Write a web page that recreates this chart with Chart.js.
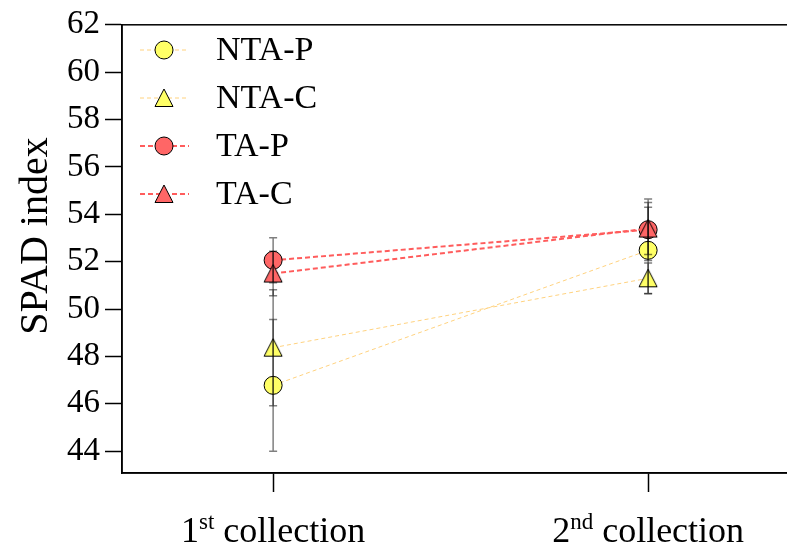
<!DOCTYPE html>
<html>
<head>
<meta charset="utf-8">
<script src="https://cdn.jsdelivr.net/npm/chart.js@4/dist/chart.umd.min.js"></script>
<style>
  html, body { margin: 0; padding: 0; background: #fff; overflow: hidden; }
  #wrap { width: 787px; height: 548px; overflow: hidden; }
</style>
</head>
<body>
<div id="wrap"><canvas id="chart" width="840" height="548"></canvas></div>
<script>
const categories = ["1st collection", "2nd collection"];
const xPositions = [1, 2];
const seriesNames = ["NTA-P", "NTA-C", "TA-P", "TA-C"];
const ntaP = [46.78, 52.48];
const ntaPErr = [2.78, 1.82];
const ntaC = [48.37, 51.3];
const ntaCErr = [2.45, 0.65];
const taP = [52.06, 53.35];
const taPErr = [0.95, 1.3];
const taC = [51.5, 53.4];
const taCErr = [0.94, 1.1];
const yTicks = [44, 46, 48, 50, 52, 54, 56, 58, 60, 62];

const FONT = "'Liberation Serif', 'Times New Roman', serif";
const yellow = "#FFFF66";
const red = "#FF6666";
const ntaLine = "#FFD27F";
const taLine = "#FF5C5C";

// triangle marker centred on its bounding box (like matplotlib '^')
function makeTriangle(fill) {
    const c = document.createElement("canvas");
    c.width = 24; c.height = 24;
    const g = c.getContext("2d");
    g.beginPath();
    g.moveTo(12, 3);
    g.lineTo(21, 20.5);
    g.lineTo(3, 20.5);
    g.closePath();
    g.fillStyle = fill;
    g.fill();
    g.lineWidth = 1;
    g.strokeStyle = "#000";
    g.stroke();
    return c;
}

const triYellow = makeTriangle(yellow);
const triRed = makeTriangle(red);

function makeDataset(label, values, errs, marker, fill, line, width, dash, order) {
    return {
        label: label,
        data: values.map((v, i) => ({ x: xPositions[i], y: v })),
        errs: errs,
        borderColor: line,
        borderWidth: width,
        borderDash: dash,
        pointStyle: marker,
        pointRadius: 9,
        pointBackgroundColor: fill,
        pointBorderColor: "#000",
        pointBorderWidth: 1,
        tension: 0,
        order: order
    };
}

const datasets = [
    makeDataset(seriesNames[0], ntaP, ntaPErr, "circle", yellow, ntaLine, 1, [4, 3], 4),
    makeDataset(seriesNames[1], ntaC, ntaCErr, triYellow, yellow, ntaLine, 1, [4, 3], 3),
    makeDataset(seriesNames[2], taP, taPErr, "circle", red, taLine, 2, [5, 3], 2),
    makeDataset(seriesNames[3], taC, taCErr, triRed, red, taLine, 2, [5, 3], 1)
];

const frame = {
    id: "frame",
    afterDraw(chart) {
        const ctx = chart.ctx;
        const a = chart.chartArea;
        const xs = chart.scales.x;
        const ys = chart.scales.y;

        // error bars, on top of markers
        ctx.save();
        ctx.strokeStyle = "rgba(0,0,0,0.5)";
        ctx.lineWidth = 1.5;
        chart.data.datasets.forEach(ds => {
            ds.data.forEach((p, i) => {
                const px = xs.getPixelForValue(p.x);
                const top = ys.getPixelForValue(p.y + ds.errs[i]);
                const bot = ys.getPixelForValue(p.y - ds.errs[i]);
                ctx.beginPath();
                ctx.moveTo(px, top); ctx.lineTo(px, bot);
                ctx.moveTo(px - 4, top); ctx.lineTo(px + 4, top);
                ctx.moveTo(px - 4, bot); ctx.lineTo(px + 4, bot);
                ctx.stroke();
            });
        });
        ctx.restore();

        // box
        ctx.save();
        ctx.strokeStyle = "#000";
        ctx.lineWidth = 1.5;
        ctx.strokeRect(a.left, a.top, a.right - a.left, a.bottom - a.top);
        ctx.restore();

        // legend
        ctx.save();
        chart.data.datasets.forEach((ds, i) => {
            const y = 50 + i * 48;
            ctx.beginPath();
            ctx.strokeStyle = ds.borderColor;
            ctx.lineWidth = ds.borderWidth;
            ctx.setLineDash(ds.borderDash);
            ctx.moveTo(140, y); ctx.lineTo(189, y);
            ctx.stroke();
            ctx.setLineDash([]);
            if (ds.pointStyle === "circle") {
                ctx.beginPath();
                ctx.arc(164, y, 9, 0, Math.PI * 2);
                ctx.fillStyle = ds.pointBackgroundColor;
                ctx.fill();
                ctx.lineWidth = 1;
                ctx.strokeStyle = "#000";
                ctx.stroke();
            } else {
                ctx.drawImage(ds.pointStyle, 164 - 12, y - 12);
            }
            ctx.fillStyle = "#000";
            ctx.font = "34px " + FONT;
            ctx.textBaseline = "middle";
            ctx.textAlign = "left";
            ctx.fillText(ds.label, 216, y + 1);
        });
        ctx.restore();

        // x tick labels with superscripts
        ctx.save();
        ctx.fillStyle = "#000";
        ctx.textBaseline = "alphabetic";
        const sups = ["st", "nd"];
        categories.forEach((c, i) => {
            const px = xs.getPixelForValue(xPositions[i]);
            const num = c.charAt(0);
            const rest = c.slice(c.indexOf(" "));
            ctx.font = "36px " + FONT;
            const wNum = ctx.measureText(num).width;
            const wRest = ctx.measureText(rest).width;
            ctx.font = "23px " + FONT;
            const wSup = ctx.measureText(sups[i]).width;
            let x = px - (wNum + wSup + wRest) / 2;
            const base = 542;
            ctx.textAlign = "left";
            ctx.font = "36px " + FONT;
            ctx.fillText(num, x, base);
            x += wNum;
            ctx.font = "23px " + FONT;
            ctx.fillText(sups[i], x, base - 13);
            x += wSup;
            ctx.font = "36px " + FONT;
            ctx.fillText(rest, x, base);
        });
        ctx.restore();

        // y axis title
        ctx.save();
        ctx.translate(36, 236);
        ctx.rotate(-Math.PI / 2);
        ctx.fillStyle = "#000";
        ctx.font = "40px " + FONT;
        ctx.textAlign = "center";
        ctx.textBaseline = "middle";
        ctx.fillText("SPAD index", 0, 0);
        ctx.restore();
    }
};

new Chart(document.getElementById("chart"), {
    type: "line",
    data: { datasets: datasets },
    options: {
        responsive: false,
        animation: false,
        layout: { padding: { top: 22, right: 10, left: 0, bottom: 0 } },
        plugins: { legend: { display: false }, tooltip: { enabled: false } },
        scales: {
            x: {
                type: "linear",
                min: 0.597,
                max: 2.485,
                afterBuildTicks: s => { s.ticks = xPositions.map(v => ({ value: v })); },
                afterFit: s => { s.height = 75; },
                grid: { drawOnChartArea: false, drawTicks: true, tickLength: 19, tickColor: "#000", tickWidth: 1.5 },
                border: { display: true, color: "#000", width: 1.5 },
                ticks: { callback: () => "", font: { size: 1 } }
            },
            y: {
                min: 43.08,
                max: 62,
                afterBuildTicks: s => { s.ticks = yTicks.map(v => ({ value: v })); },
                afterFit: s => { s.width = 122; },
                grid: { drawOnChartArea: false, drawTicks: true, tickLength: 17, tickColor: "#000", tickWidth: 1.5 },
                border: { display: true, color: "#000", width: 1.5 },
                ticks: { color: "#000", padding: 5, font: { family: FONT, size: 33 } }
            }
        }
    },
    plugins: [frame]
});
</script>
</body>
</html>
